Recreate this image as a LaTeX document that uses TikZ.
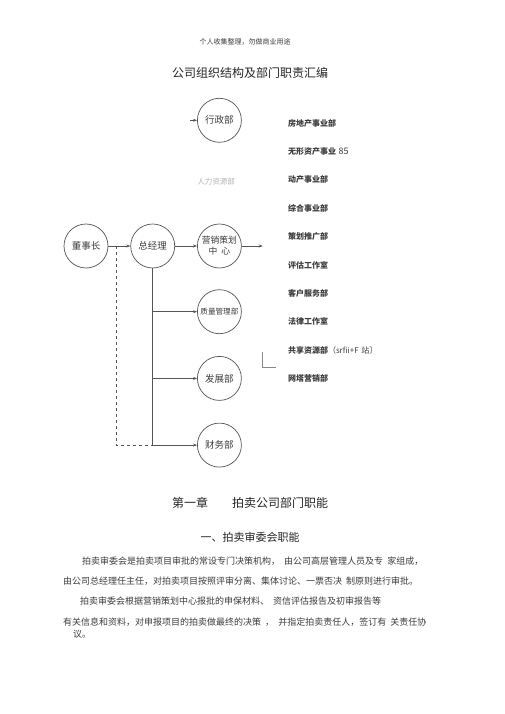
\documentclass[tikz,border=0pt]{standalone}
\usepackage{fontspec}
\setmainfont{Noto Sans CJK SC}
\usepackage{xcolor}
\usetikzlibrary{positioning, arrows.meta}
\definecolor{linecolor}{RGB}{85,85,85}
\definecolor{textcolor}{RGB}{60,60,60}

\begin{document}
\begin{tikzpicture}[
    x=1pt, y=-1pt,
    node distance=22pt,
    dept/.style={
        circle,
        draw=linecolor,
        line width=0.7pt,
        minimum size=44pt,
        inner sep=0pt,
        align=center,
        text=textcolor,
        font=\fontsize{9.5}{11}\selectfont
    },
    listitem/.style={
        rectangle,
        text width=110pt,
        minimum height=28pt,
        inner sep=0pt,
        align=left,
        text=textcolor,
        font=\fontsize{8}{9}\selectfont\bfseries
    },
    bodytext/.style={
        anchor=west,
        inner sep=0pt,
        text=textcolor,
        font=\fontsize{9}{10}\selectfont
    },
    arrow/.style={
        -{Stealth[length=4pt,width=3pt]},
        line width=0.7pt,
        color=linecolor
    }
]

% page frame
\useasboundingbox[fill=white] (0,0) rectangle (505,714);

% header and title
\node[font=\fontsize{7}{8}\selectfont, text=textcolor] (header) at (245,42) {个人收集整理，勿做商业用途};
\node[font=\fontsize{12}{14}\selectfont, text=black!85] (title) at (250,73) {公司组织结构及部门职责汇编};

% Chart circles
\node[dept] (dong) at (86,246) {董事长};
\node[dept, right=of dong] (zong) {总经理};
\node[dept, right=of zong, font=\fontsize{8.8}{11}\selectfont] (ying) {营销策划\\中\ \ 心};
\node[dept, above=81pt of ying] (xing) {行政部};
\node[dept, below=21pt of ying, font=\fontsize{7.6}{9}\selectfont] (zhi) {质量管理部};
\node[dept, below=of zhi] (fa) {发展部};
\node[dept, below=of fa] (cai) {财务部};

% grey label
\node[font=\fontsize{7.5}{9}\selectfont, text=black!30] (renli) at (216,182) {人力资源部};

% helper points
\coordinate[right=8pt of dong.east] (dsplit);
\coordinate[right=21pt of ying.east] (yingout);
\coordinate[left=7pt of xing.west] (xingin);
\coordinate (lA) at (262,352);
\coordinate (lB) at (262,367);
\coordinate (lC) at (276,367);

% Arrows
\draw[arrow] (dong) -- (zong);
\draw[arrow] (zong) -- (ying);
\draw[arrow] (ying) -- (yingout);
\draw[arrow] (xingin) -- (xing);
\draw[line width=0.7pt, color=linecolor] (zong.south) -- (zong.south |- cai.west);
\draw[arrow] (zong.south |- zhi.west) -- (zhi);
\draw[arrow] (zong.south |- fa.west) -- (fa);
\draw[arrow] (zong.south |- cai.west) -- (cai);
\draw[dashed, line width=0.6pt, color=linecolor] (dsplit) |- (zong.south |- cai.west);
\draw[line width=0.6pt, color=linecolor!70] (lA) -- (lB) -- (lC);

% Department list
\node[listitem] (l1) at (343,123) {房地产事业部};
\node[listitem, below=0pt of l1] (l2) {无形资产事业\ {\mdseries\fontsize{9}{10}\selectfont 85}};
\node[listitem, below=0pt of l2] (l3) {动产事业部};
\node[listitem, below=0pt of l3] (l4) {综合事业部};
\node[listitem, below=0pt of l4] (l5) {策划推广部};
\node[listitem, below=0pt of l5] (l6) {评估工作室};
\node[listitem, below=0pt of l6] (l7) {客户服务部};
\node[listitem, below=0pt of l7] (l8) {法律工作室};
\node[listitem, below=0pt of l8] (l9) {共享资源部{\mdseries （srfii+F 站〕}};
\node[listitem, below=0pt of l9] (l10) {网塔营销部};

% Chapter text
\node[font=\fontsize{12}{14}\selectfont, text=black!85] (chap) at (250,503) {第一章\hspace{2em}拍卖公司部门职能};
\node[font=\fontsize{11}{13}\selectfont, text=black!85] (sect) at (250,537) {一、拍卖审委会职能};

\node[bodytext] (p1) at (82,561) {拍卖审委会是拍卖项目审批的常设专门决策机构，\ \ 由公司高层管理人员及专\ \ 家组成，};
\node[bodytext] (p2) at (63,581) {由公司总经理任主任，对拍卖项目按照评审分离、集体讨论、一票否决\ \ 制原则进行审批。};
\node[bodytext] (p3) at (80,601) {拍卖审委会根据营销策划中心报批的申保材料、\ \ 资信评估报告及初审报告等};
\node[bodytext] (p4) at (63,622) {有关信息和资料，对申报项目的拍卖做最终的决策\ \ ，\ \ 并指定拍卖责任人，签订有\ \ 关责任协};
\node[bodytext] (p5) at (73,634) {议。};

\end{tikzpicture}
\end{document}
